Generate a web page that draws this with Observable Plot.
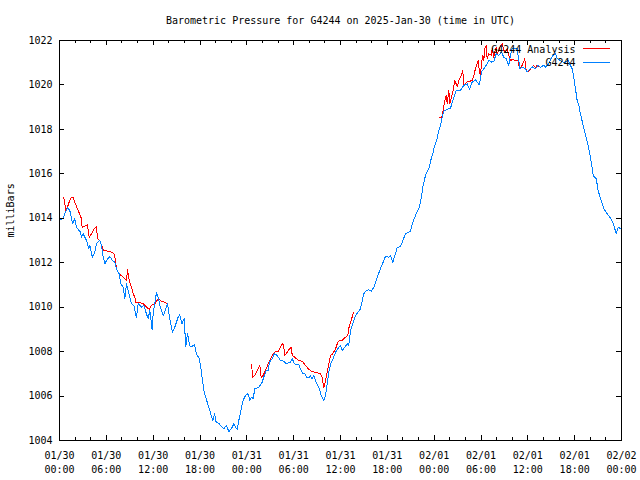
<!DOCTYPE html>
<html><head><meta charset="utf-8">
<script src="https://cdn.jsdelivr.net/npm/d3@7"></script>
<script src="https://cdn.jsdelivr.net/npm/@observablehq/plot@0.6"></script>
<style>body{margin:0;background:#fff} svg{display:block}</style>
</head><body><div id="chart"></div>
<script>
const title = "Barometric Pressure for G4244 on 2025-Jan-30 (time in UTC)";
const yLabel = "milliBars";
const seriesNames = ["G4244 Analysis", "G4244"];
const seriesColors = ["#ff0000", "#0080ff"];

// Observed station pressure (hours since 2025-01-30 00:00 UTC, mb)
const obsHours = [0.04,0.47,0.68,1.02,1.32,1.67,1.96,2.18,2.69,2.82,3.03,3.46,3.76,3.89,4.19,4.53,4.74,5.17,5.38,5.6,5.81,6.02,6.45,6.79,7.09,7.3,7.64,7.86,8.16,8.37,8.58,8.8,9.01,9.22,9.52,9.86,10.08,10.5,10.8,11.06,11.36,11.57,11.87,12.0,12.43,12.64,12.85,13.28,13.49,13.84,14.13,14.48,14.77,15.2,15.41,15.67,15.97,16.18,16.4,16.69,17.04,17.29,17.55,17.9,18.1,18.49,18.79,19.13,19.43,19.64,19.86,20.07,20.41,20.63,21.05,21.39,21.69,22.03,22.33,22.55,22.76,22.97,23.19,23.4,23.7,24.04,24.25,24.38,24.6,24.81,25.02,25.53,25.75,25.96,26.17,26.48,26.73,26.9,27.25,27.5,27.88,28.31,28.73,29.04,29.59,29.81,30.1,30.66,30.96,31.17,31.43,31.73,32.03,32.15,32.37,32.58,32.88,33.22,33.52,33.86,34.08,34.29,34.5,34.81,35.06,35.36,35.78,36.0,36.21,36.86,37.06,37.28,37.7,37.92,38.56,38.98,39.2,39.62,39.97,40.27,40.7,41.12,41.55,41.76,42.19,42.4,42.7,43.04,43.26,43.68,43.9,44.32,44.97,45.26,45.61,46.03,46.38,46.54,46.89,47.31,47.62,47.82,48.04,48.39,48.59,48.81,49.03,49.23,49.67,50.09,50.39,50.82,51.37,51.79,52.23,52.52,52.87,53.29,53.8,54.06,54.36,54.79,55.0,55.34,55.64,55.94,56.28,56.62,56.92,57.22,57.56,57.78,57.99,58.42,58.63,58.84,58.97,59.27,59.7,59.91,60.12,60.55,60.98,61.32,61.62,62.04,62.26,62.68,63.2,63.54,63.76,64.18,64.48,64.82,65.17,65.46,65.68,65.89,66.1,66.32,66.53,66.74,67.04,67.3,67.51,67.81,68.16,68.37,68.76,69.01,69.31,69.73,70.16,70.59,70.89,71.14,71.32,71.57,71.87];
const obsValues = [1013.93,1013.98,1014.2,1014.47,1014.35,1013.75,1013.98,1013.6,1013.37,1013.15,1013.3,1013.0,1012.62,1012.78,1012.25,1012.48,1012.88,1013.0,1012.78,1012.25,1011.95,1012.1,1012.28,1012.1,1012.02,1011.73,1011.5,1011.05,1010.9,1010.38,1011.05,1010.75,1010.45,1010.15,1010.08,1009.52,1010.15,1010.0,1010.08,1009.78,1009.48,1009.85,1008.98,1009.7,1010.67,1010.45,1010.08,1009.63,1009.78,1010.15,1009.48,1008.88,1009.1,1009.55,1009.67,1009.25,1009.48,1008.23,1008.8,1008.25,1008.25,1008.3,1007.9,1007.68,1007.3,1006.25,1005.88,1005.5,1005.13,1004.9,1005.2,1004.82,1004.78,1004.68,1004.53,1004.68,1004.4,1004.53,1004.75,1004.6,1004.5,1004.9,1005.27,1005.65,1005.95,1006.1,1006.03,1005.8,1005.95,1005.88,1006.33,1006.4,1006.5,1006.62,1006.85,1007.15,1007.15,1007.52,1007.68,1007.9,1007.83,1007.6,1007.57,1007.45,1007.53,1007.68,1007.45,1007.41,1007.15,1007.03,1007.0,1006.82,1006.85,1006.92,1006.77,1006.92,1006.62,1006.4,1006.03,1005.8,1006.03,1006.55,1007.07,1007.52,1007.68,1007.97,1008.2,1008.28,1008.05,1008.35,1008.28,1008.95,1009.4,1009.63,1009.93,1010.6,1010.72,1010.78,1010.72,1010.9,1011.35,1011.73,1012.1,1012.28,1012.25,1012.32,1012.02,1012.4,1012.67,1012.73,1012.92,1013.3,1013.42,1013.82,1014.13,1014.43,1014.95,1015.4,1015.93,1016.23,1016.68,1016.9,1017.23,1017.58,1017.95,1018.18,1018.55,1018.82,1018.9,1018.95,1019.3,1019.75,1019.75,1019.98,1020.05,1019.8,1020.13,1020.23,1020.0,1020.58,1020.73,1020.95,1021.1,1021.03,1021.06,1021.4,1021.33,1021.48,1021.25,1021.18,1020.88,1021.33,1021.63,1021.63,1021.63,1021.1,1020.73,1020.8,1020.73,1020.58,1020.65,1020.82,1020.73,1020.88,1020.8,1020.88,1020.8,1020.95,1021.33,1021.4,1021.18,1021.1,1021.03,1021.03,1021.1,1020.88,1020.73,1020.35,1019.83,1019.3,1019.08,1018.7,1018.25,1017.88,1017.58,1017.13,1016.45,1015.93,1015.78,1015.25,1014.88,1014.43,1014.2,1014.0,1013.82,1013.53,1013.3,1013.6,1013.53];

// Analysis pressure (null = no analysis, gap in the line)
const anaHours = [0.55,0.68,0.81,1.02,1.24,1.54,1.75,1.96,2.18,2.39,2.6,2.82,2.9,3.24,3.59,3.8,4.1,4.44,4.74,4.87,5.17,5.38,5.68,6.24,6.66,6.96,7.09,7.3,7.52,7.73,8.07,8.37,8.58,8.71,8.93,9.22,9.44,9.65,9.78,10.08,10.63,10.93,11.49,11.79,12.21,12.64,13.07,13.49,13.84,
  19,
  24.6,24.76,25.02,25.33,25.66,25.84,26.09,26.39,26.73,27.03,27.33,27.67,28.02,28.31,28.61,28.73,28.86,29.17,29.46,29.72,29.81,30.23,30.66,31.09,31.51,31.94,32.37,32.88,33.44,33.65,33.86,34.08,34.29,34.5,34.72,34.93,35.36,35.7,36.21,36.64,36.94,37.06,37.28,37.49,37.7,
  43,
  48.68,48.94,49.11,49.36,49.54,49.67,49.88,50.01,50.22,50.43,50.65,50.82,50.99,51.16,51.37,51.67,51.79,52.23,52.87,53.08,53.29,53.64,53.8,53.93,54.06,54.23,54.36,54.49,54.66,54.79,55.0,55.34,55.43,55.64,55.77,55.94,56.07,56.28,56.5,56.71,56.92,57.14,57.35,57.56,57.78,58.07,58.42,58.76,58.93,59.27,59.61,59.79,60.04,60.34,60.76,60.98,61.19,61.62,62.04];
const anaValues = [1014.92,1014.65,1014.35,1014.5,1014.73,1014.95,1014.92,1014.73,1014.53,1014.35,1014.17,1013.98,1013.6,1013.65,1013.7,1013.15,1013.3,1013.53,1013.63,1013.08,1013.0,1012.78,1012.55,1012.52,1012.48,1012.4,1012.25,1011.73,1011.58,1011.47,1011.38,1011.28,1011.2,1011.68,1011.2,1010.9,1010.6,1010.45,1010.22,1010.2,1010.18,1010.08,1009.9,1010.08,1010.15,1010.38,1010.27,1010.22,1010.15,
  null,
  1007.42,1006.85,1006.93,1007.15,1007.38,1006.85,1006.93,1007.15,1007.45,1007.68,1007.87,1008.02,1008.02,1008.2,1008.38,1008.2,1007.83,1007.97,1008.12,1008.2,1007.83,1007.72,1007.6,1007.57,1007.38,1007.2,1007.1,1007.06,1007.0,1006.85,1006.37,1006.7,1007.07,1007.45,1007.83,1007.87,1008.12,1008.47,1008.5,1008.65,1008.73,1009.05,1009.32,1009.55,1009.78,
  null,
  1018.55,1018.52,1018.78,1019.3,1019.53,1019.15,1019.75,1019.15,1019.45,1019.75,1020.2,1020.05,1019.93,1020.2,1020.35,1020.65,1019.98,1020.13,1020.2,1020.43,1020.73,1021.1,1020.58,1020.43,1020.95,1021.33,1021.1,1021.63,1021.78,1021.18,1021.4,1021.33,1021.63,1021.25,1021.48,1021.7,1021.4,1021.55,1021.78,1021.85,1021.55,1021.48,1021.63,1021.33,1021.1,1021.15,1021.1,1021.1,1020.73,1020.88,1021.18,1020.65,1020.58,1020.73,1020.88,1020.76,1020.88,1020.8,1020.88];

const xTickHours = [0,6,12,18,24,30,36,42,48,54,60,66,72];
const xTickLabels = ["01/30\n00:00","01/30\n06:00","01/30\n12:00","01/30\n18:00","01/31\n00:00","01/31\n06:00","01/31\n12:00","01/31\n18:00","02/01\n00:00","02/01\n06:00","02/01\n12:00","02/01\n18:00","02/02\n00:00"];
const xMinorHours = [2,4,8,10,14,16,20,22,26,28,32,34,38,40,44,46,50,52,56,58,62,64,68,70];
const yTicks = [1004,1006,1008,1010,1012,1014,1016,1018,1020,1022];

const obs = obsHours.map((h, i) => ({h, v: obsValues[i]}));
const ana = anaHours.map((h, i) => ({h, v: anaValues[i]}));

const W = 640, H = 480, mL = 59, mR = 19, mT = 40, mB = 40;
const fw = W - mL - mR, fh = H - mT - mB;
const major = 5, minor = 3;
const crisp = {shapeRendering: "crispEdges", stroke: "#000", strokeWidth: 1};

const chart = Plot.plot({
  width: W, height: H,
  marginLeft: mL, marginRight: mR, marginTop: mT, marginBottom: mB,
  style: {fontFamily: "'DejaVu Sans Mono', monospace", fontSize: "10px", background: "#fff", color: "#000", overflow: "visible"},
  x: {domain: [0, 72], axis: null},
  y: {domain: [1004, 1022], axis: null},
  marks: [
    Plot.line(ana, {x: "h", y: "v", stroke: seriesColors[0], strokeWidth: 1, shapeRendering: "crispEdges"}),
    Plot.line(obs, {x: "h", y: "v", stroke: seriesColors[1], strokeWidth: 1, shapeRendering: "crispEdges"}),
    // ticks (inward, mirrored)
    Plot.ruleX(xTickHours, {...crisp, insetTop: fh - major}),
    Plot.ruleX(xTickHours, {...crisp, insetBottom: fh - major}),
    Plot.ruleX(xMinorHours, {...crisp, insetTop: fh - minor}),
    Plot.ruleX(xMinorHours, {...crisp, insetBottom: fh - minor}),
    Plot.ruleY(yTicks, {...crisp, insetRight: fw - major}),
    Plot.ruleY(yTicks, {...crisp, insetLeft: fw - major}),
    Plot.frame({stroke: "#000", shapeRendering: "crispEdges"}),
    // tick labels
    Plot.text(xTickHours, {x: d => d, text: (d, i) => xTickLabels[i], frameAnchor: "bottom", lineAnchor: "top", dy: 9, lineHeight: 1.35, fill: "#000"}),
    Plot.text(yTicks, {y: d => d, text: d => String(d), frameAnchor: "left", textAnchor: "end", dx: -7, fill: "#000"}),
    // axis label and title
    Plot.text([yLabel], {frameAnchor: "left", rotate: -90, dx: -49, dy: -3, fill: "#000"}),
    Plot.text([title], {frameAnchor: "top", dy: -20, lineAnchor: "middle", fill: "#000"}),
    // legend labels
    Plot.text([seriesNames[0]], {frameAnchor: "top-right", textAnchor: "end", lineAnchor: "middle", dx: -46, dy: 9.5, fill: "#000"}),
    Plot.text([seriesNames[1]], {frameAnchor: "top-right", textAnchor: "end", lineAnchor: "middle", dx: -46, dy: 22.5, fill: "#000"})
  ]
});

// legend sample lines
const svg = d3.select(chart);
[0, 1].forEach(i => {
  svg.append("line")
    .attr("x1", W - mR - 38).attr("x2", W - mR - 11)
    .attr("y1", mT + 8.5 + i * 14).attr("y2", mT + 8.5 + i * 14)
    .attr("stroke", seriesColors[i]).attr("stroke-width", 1)
    .attr("shape-rendering", "crispEdges");
});

document.getElementById("chart").appendChild(chart);
</script>
</body></html>
